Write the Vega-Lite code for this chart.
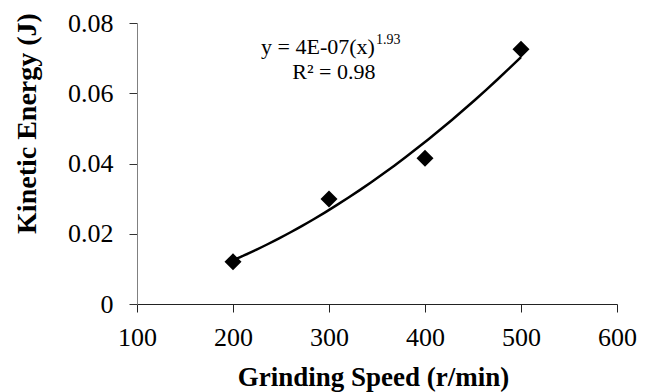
{
  "$schema": "https://vega.github.io/schema/vega-lite/v6.json",
  "autosize": {"type": "none"},
  "width": 480,
  "height": 281,
  "padding": {"left": 137, "top": 23, "right": 33, "bottom": 88},
  "background": "white",
  "config": {
    "view": {"stroke": null},
    "font": "Liberation Serif"
  },
  "datasets": {
    "points": [
      {"speed": 200, "energy": 0.0120},
      {"speed": 300, "energy": 0.0299},
      {"speed": 400, "energy": 0.0415},
      {"speed": 500, "energy": 0.0725}
    ],
    "labels": [
      {"part": "equation", "text": "y = 4E-07(x)"},
      {"part": "exponent", "text": "1.93"},
      {"part": "r2", "text": "R² = 0.98"}
    ]
  },
  "layer": [
    {
      "data": {"name": "points"},
      "transform": [
        {"regression": "energy", "on": "speed", "method": "pow", "extent": [200, 500]}
      ],
      "mark": {"type": "line", "color": "black", "strokeWidth": 2.5, "interpolate": "monotone"},
      "encoding": {
        "x": {"field": "speed", "type": "quantitative"},
        "y": {"field": "energy", "type": "quantitative"}
      }
    },
    {
      "data": {"name": "points"},
      "mark": {"type": "point", "shape": "diamond", "filled": true, "color": "black", "opacity": 1, "size": 290},
      "encoding": {
        "x": {
          "field": "speed",
          "type": "quantitative",
          "scale": {"domain": [100, 600], "nice": false},
          "axis": {
            "title": "Grinding Speed (r/min)",
            "titleFont": "Liberation Serif",
            "titleFontSize": 27,
            "titleFontWeight": "bold",
            "titleColor": "black",
            "titleBaseline": "alphabetic",
            "titleAlign": "center",
            "titleX": 236,
            "titleY": 81,
            "values": [100, 200, 300, 400, 500, 600],
            "labelFont": "Liberation Serif",
            "labelFontSize": 26,
            "labelColor": "black",
            "labelPadding": 12,
            "labelFlush": false,
            "grid": false,
            "domainColor": "#222",
            "tickColor": "#222",
            "tickSize": 8,
            "tickWidth": 1
          }
        },
        "y": {
          "field": "energy",
          "type": "quantitative",
          "scale": {"domain": [0, 0.08], "nice": false},
          "axis": {
            "title": "Kinetic Energy (J)",
            "titleFont": "Liberation Serif",
            "titleFontSize": 28,
            "titleFontWeight": "bold",
            "titleColor": "black",
            "titleAngle": -90,
            "titleAlign": "center",
            "titleBaseline": "alphabetic",
            "titleX": -102,
            "titleY": 100,
            "values": [0, 0.02, 0.04, 0.06, 0.08],
            "format": "~g",
            "labelFont": "Liberation Serif",
            "labelFontSize": 26,
            "labelColor": "black",
            "labelPadding": 16,
            "grid": false,
            "domainColor": "#808080",
            "tickColor": "#333",
            "tickSize": 8,
            "tickWidth": 1
          }
        }
      }
    },
    {
      "data": {"name": "labels"},
      "transform": [{"filter": "datum.part == 'equation'"}],
      "mark": {"type": "text", "align": "left", "baseline": "alphabetic", "font": "Liberation Serif", "fontSize": 22, "color": "black"},
      "encoding": {
        "text": {"field": "text"},
        "x": {"datum": 229.2},
        "y": {"datum": 0.0712}
      }
    },
    {
      "data": {"name": "labels"},
      "transform": [{"filter": "datum.part == 'exponent'"}],
      "mark": {"type": "text", "align": "left", "baseline": "alphabetic", "font": "Liberation Serif", "fontSize": 14, "color": "black"},
      "encoding": {
        "text": {"field": "text"},
        "x": {"datum": 349},
        "y": {"datum": 0.0740}
      }
    },
    {
      "data": {"name": "labels"},
      "transform": [{"filter": "datum.part == 'r2'"}],
      "mark": {"type": "text", "align": "center", "baseline": "alphabetic", "font": "Liberation Serif", "fontSize": 22, "color": "black"},
      "encoding": {
        "text": {"field": "text"},
        "x": {"datum": 305},
        "y": {"datum": 0.0641}
      }
    }
  ]
}
